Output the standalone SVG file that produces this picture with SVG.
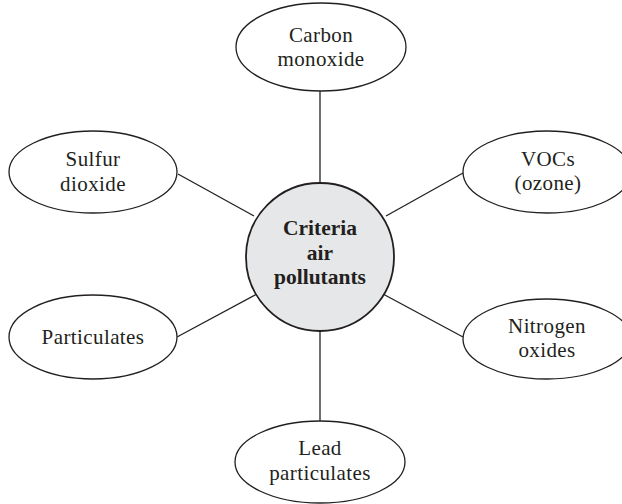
<svg xmlns="http://www.w3.org/2000/svg" width="622" height="504" viewBox="0 0 622 504">
<style>
.n{fill:#ffffff;stroke:#231f20;stroke-width:1.3}
.c{fill:#e6e7e8;stroke:#231f20;stroke-width:1.8}
.t{font-family:"Liberation Serif",serif;font-size:21px;fill:#231f20;text-anchor:middle;letter-spacing:0.4px}
.b{font-family:"Liberation Serif",serif;font-size:21.5px;font-weight:bold;fill:#231f20;text-anchor:middle}
#edges line{stroke:#231f20;stroke-width:1.3}
</style>
<rect width="622" height="504" fill="#ffffff"/>
<g id="edges">
<line x1="320" y1="91" x2="320" y2="183"/>
<line x1="320" y1="331" x2="320" y2="421"/>
<line x1="178" y1="174" x2="254" y2="216"/>
<line x1="177" y1="337" x2="257" y2="294"/>
<line x1="463" y1="173" x2="386" y2="216"/>
<line x1="463" y1="337" x2="383" y2="294"/>
</g>
<g id="center">
<circle class="c" cx="320" cy="257" r="74"/>
<text class="b" x="320" y="235">Criteria</text>
<text class="b" x="320" y="260">air</text>
<text class="b" x="320" y="284">pollutants</text>
</g>
<g id="carbon">
<ellipse class="n" cx="321" cy="47" rx="85" ry="44"/>
<text class="t" x="321" y="42">Carbon</text>
<text class="t" x="321" y="66">monoxide</text>
</g>
<g id="sulfur">
<ellipse class="n" cx="93" cy="172" rx="84" ry="41"/>
<text class="t" x="93" y="166">Sulfur</text>
<text class="t" x="93" y="191">dioxide</text>
</g>
<g id="vocs">
<ellipse class="n" cx="547" cy="172" rx="84" ry="41"/>
<text class="t" x="548" y="166">VOCs</text>
<text class="t" x="548" y="190">(ozone)</text>
</g>
<g id="particulates">
<ellipse class="n" cx="93" cy="337" rx="84" ry="42"/>
<text class="t" x="93" y="344">Particulates</text>
</g>
<g id="nitrogen">
<ellipse class="n" cx="547" cy="339" rx="84" ry="40"/>
<text class="t" x="547" y="333">Nitrogen</text>
<text class="t" x="547" y="357">oxides</text>
</g>
<g id="lead">
<ellipse class="n" cx="320" cy="462" rx="85" ry="41"/>
<text class="t" x="320" y="455">Lead</text>
<text class="t" x="320" y="480">particulates</text>
</g>
</svg>
